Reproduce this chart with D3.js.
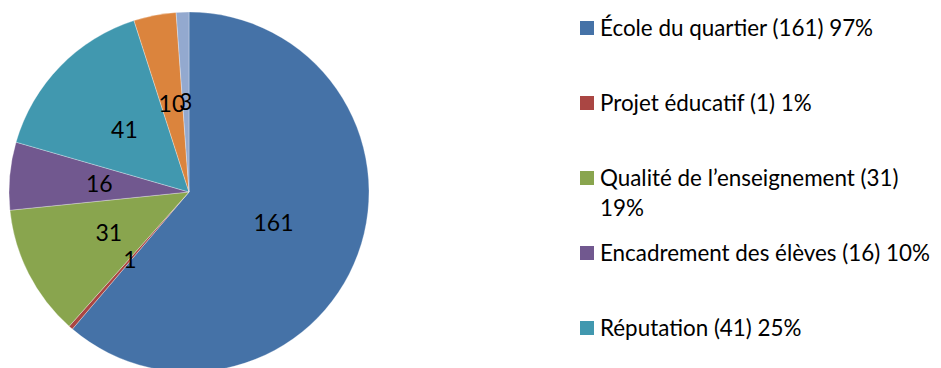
<!DOCTYPE html>
<html>
<head>
<meta charset="utf-8">
<script src="https://cdn.jsdelivr.net/npm/d3@7"></script>
<style>
  body { margin: 0; background: #fff; }
  svg { display: block; font-family: Lato, "Open Sans", sans-serif; }
</style>
</head>
<body>
<script>
// slices, clockwise from 12 o'clock
var values = [161, 1, 31, 16, 41, 10, 3]
var colors = ["#4572A7", "#AA4643", "#89A54E", "#71588F", "#4198AF", "#DB843D", "#93A9CF"]

// legend entries that show in the picture (\n = where the line wraps)
var legendLabels = [
    "École du quartier (161) 97%",
    "Projet éducatif (1) 1%",
    "Qualité de l’enseignement (31)\n19%",
    "Encadrement des élèves (16) 10%",
    "Réputation (41) 25%"
]

var width = 941, height = 368
var cx = 189, cy = 192, radius = 180

var svg = d3.select("body")
    .append("svg")
    .attr("width", width)
    .attr("height", height)

var pie = d3.pie()
    .sort(null)
    .value(d => d)

var arcs = pie(values)

var arc = d3.arc()
    .innerRadius(0)
    .outerRadius(radius)

var pieGroup = svg.append("g")
    .attr("transform", "translate(" + cx + "," + cy + ")")

pieGroup.selectAll("path")
    .data(arcs)
    .enter()
    .append("path")
    .attr("d", arc)
    .attr("fill", (d, i) => colors[i])
    .attr("stroke", "#fff")
    .attr("stroke-opacity", 0.5)
    .attr("stroke-width", 0.6)

pieGroup.selectAll("text")
    .data(arcs)
    .enter()
    .append("text")
    .attr("transform", d => "translate(" + arc.centroid(d) + ")")
    .attr("text-anchor", "middle")
    .attr("dy", "0.36em")
    .style("font-size", "23px")
    .style("fill", "#000")
    .text(d => d.value)

// legend
var legendX = 580, legendTop = 28, legendStep = 75

var legend = svg.append("g")

legendLabels.forEach((label, i) => {
    var y = legendTop + i * legendStep
    var row = legend.append("g")

    row.append("rect")
        .attr("x", legendX)
        .attr("y", y - 7)
        .attr("width", 14)
        .attr("height", 14)
        .attr("fill", colors[i])

    var text = row.append("text")
        .style("font-size", "22.4px")
        .style("fill", "#000")

    label.split("\n").forEach((line, j) => {
        text.append("tspan")
            .attr("x", legendX + 20)
            .attr("y", y + j * 30)
            .attr("dy", "0.36em")
            .text(line)
    })
})
</script>
</body>
</html>
